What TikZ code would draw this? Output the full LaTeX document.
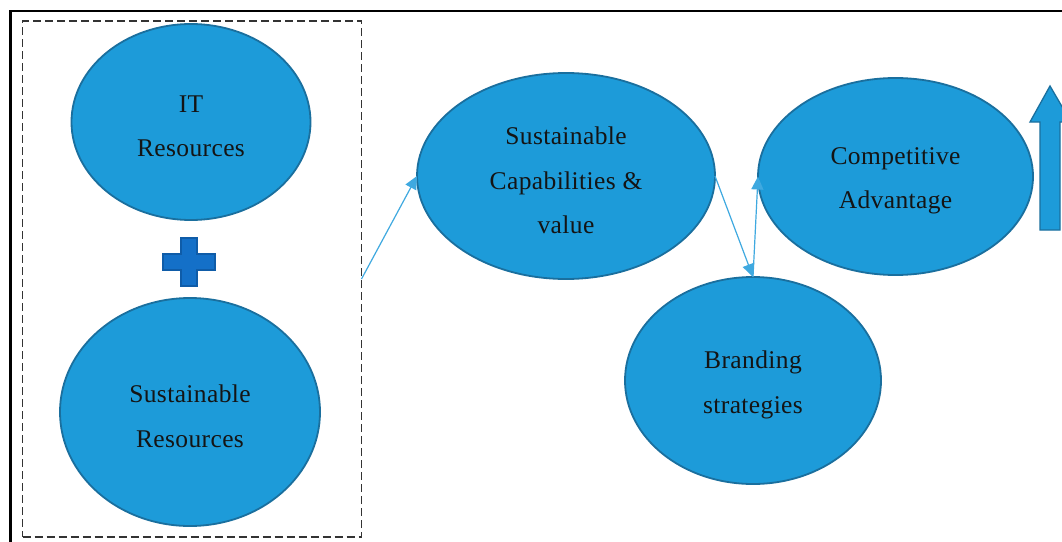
\documentclass[tikz,border=0pt]{standalone}
\usepackage{fontspec}
\setmainfont[LetterSpace=1.5]{Liberation Serif}
\usetikzlibrary{shapes.geometric,arrows.meta}
\definecolor{ellfill}{HTML}{1D9BD9}
\definecolor{elledge}{HTML}{1A6F9E}
\definecolor{linkblue}{HTML}{3FA9E0}
\definecolor{plusfill}{HTML}{1470C8}
\definecolor{plusedge}{HTML}{0F5CA8}
\newcommand{\ovaltext}[1]{\parbox{160pt}{\vspace*{9pt}\centering\fontsize{25.5}{44.5}\selectfont\color{black!92}#1}}
\tikzset{
  oval/.style={ellipse,draw=elledge,fill=ellfill,line width=1.8pt,inner sep=0pt,outer sep=0pt},
  link/.style={draw=linkblue,line width=1.2pt,-{Triangle[length=13pt,width=12pt]},shorten >=0pt},
  groupbox/.style={rectangle,draw=black!80,line width=1.2pt,dash pattern=on 8pt off 4pt,inner sep=0pt,outer sep=0pt,minimum width=339pt,minimum height=516pt}
}
\begin{document}
\begin{tikzpicture}[x=1pt,y=-1pt]
\useasboundingbox (0,0) rectangle (1062,541);
\fill[white] (0,0) rectangle (1062,541);
\draw[black,line width=2.6pt] (10.5,560) -- (10.5,11) -- (1080,11);
\node[groupbox] (box) at (192,279) {};
\node[oval,minimum width=239pt,minimum height=196pt] (it) at (191,122) {\ovaltext{IT\\Resources}};
\node[oval,minimum width=260pt,minimum height=228pt] (sr) at (190,412) {\ovaltext{Sustainable\\Resources}};
\node[oval,minimum width=298pt,minimum height=206pt] (cap) at (566,176) {\ovaltext{Sustainable\\Capabilities \&\\value}};
\node[oval,minimum width=275pt,minimum height=197pt] (comp) at (895.5,176.5) {\ovaltext{Competitive\\Advantage}};
\node[oval,minimum width=256pt,minimum height=207pt] (brand) at (753,380.5) {\ovaltext{Branding\\strategies}};
\draw[plusedge,fill=plusfill,line width=2pt] (181,238) -- (197,238) -- (197,254) -- (215,254) -- (215,270) -- (197,270) -- (197,286) -- (181,286) -- (181,270) -- (163,270) -- (163,254) -- (181,254) -- cycle;
\draw[link] (box.east) -- (cap.west);
\draw[link] (cap.east) -- (brand.north);
\draw[link] (brand.north) -- (comp.west);
\draw[elledge,fill=ellfill,line width=1.3pt] (1050,86) -- (1071,122) -- (1060,122) -- (1060,230) -- (1040,230) -- (1040,122) -- (1030,122) -- cycle;
\end{tikzpicture}
\end{document}
